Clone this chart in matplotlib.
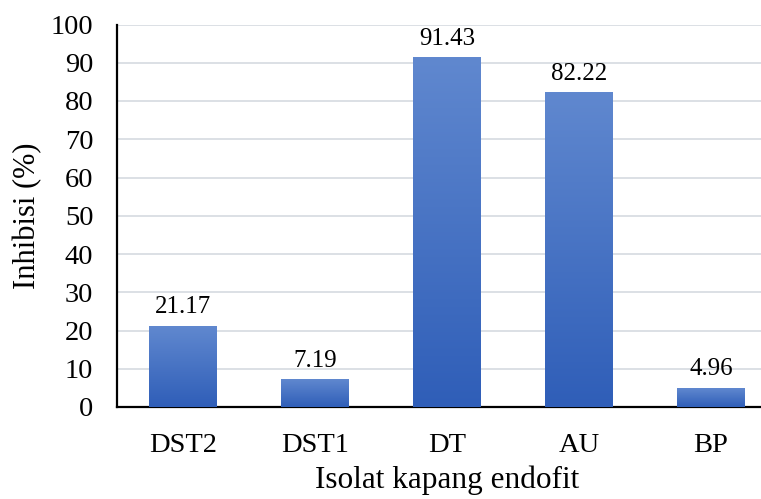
import matplotlib
matplotlib.use("Agg")
import matplotlib.pyplot as plt
import numpy as np
from matplotlib.colors import LinearSegmentedColormap

# data ---------------------------------------------------------------
isolat = ["DST2", "DST1", "DT", "AU", "BP"]
inhibisi = [21.17, 7.19, 91.43, 82.22, 4.96]
yticks = list(range(0, 101, 10))

plt.rcParams["font.family"] = ["Liberation Serif", "DejaVu Serif"]

fig = plt.figure(figsize=(7.61, 4.99), dpi=100)
ax = fig.add_axes([117 / 761, 92 / 499, 660 / 761, 382.5 / 499])

x = np.arange(len(isolat))
bars = ax.bar(x, inhibisi, width=0.51, color="none", zorder=3)

# gradient fill per bar (top lighter, bottom darker)
cmap = LinearSegmentedColormap.from_list("grad", ["#2f5eb8", "#6088cf"])
grad = np.linspace(0, 1, 256).reshape(-1, 1)
for b in bars:
    x0, w, h = b.get_x(), b.get_width(), b.get_height()
    ax.imshow(grad, cmap=cmap, origin="lower", aspect="auto",
              extent=[x0, x0 + w, 0, h], zorder=3)
    ax.text(x0 + w / 2, h + 2.0, f"{h:.2f}", ha="center", va="bottom",
            fontsize=18, zorder=4)

ax.set_xlim(-0.5, len(isolat) - 0.5)
ax.set_ylim(0, 100)
ax.set_yticks(yticks)
ax.set_xticks(x)
ax.set_xticklabels(isolat)
ax.tick_params(axis="y", length=0, pad=17, labelsize=20.5)
ax.tick_params(axis="x", length=0, pad=19, labelsize=20.5)

ax.grid(axis="y", color="#d9dde3", linewidth=1.3, zorder=0)
ax.set_axisbelow(True)
for s in ["top", "right"]:
    ax.spines[s].set_visible(False)
for s in ["left", "bottom"]:
    ax.spines[s].set_linewidth(1.6)
    ax.spines[s].set_color("black")

ax.set_ylabel("Inhibisi (%)", fontsize=22, labelpad=6)
ax.set_xlabel("Isolat kapang endofit", fontsize=22.5, labelpad=5)

fig.savefig("out.png", dpi=100)
